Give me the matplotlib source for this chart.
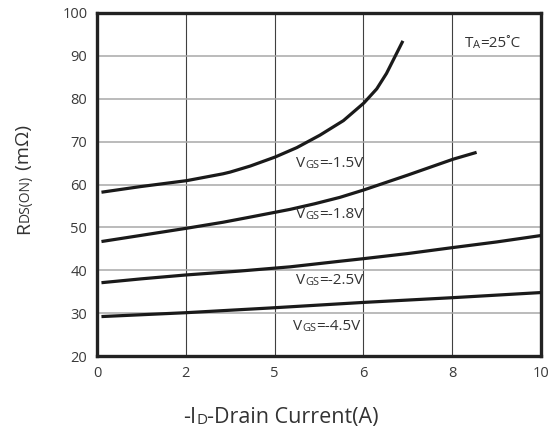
import matplotlib
matplotlib.use('Agg')
import matplotlib.pyplot as plt

plt.rcParams['font.family'] = ['Open Sans', 'DejaVu Sans']

# curves
x_15 = [0.1, 0.97, 2.02, 2.84, 3.0, 3.45, 4.01, 4.5, 5.02, 5.55, 6.01, 6.3, 6.52, 6.71, 6.89]
y_15 = [58.2, 59.5, 60.9, 62.5, 62.9, 64.3, 66.4, 68.6, 71.5, 74.9, 79.0, 82.3, 85.9, 89.8, 93.5]
x_18 = [0.1, 0.97, 2.02, 2.84, 3.45, 4.35, 4.9, 5.47, 6.0, 7.0, 8.02, 8.55]
y_18 = [46.7, 48.1, 49.8, 51.2, 52.4, 54.2, 55.5, 57.0, 58.7, 62.2, 65.9, 67.5]
x_25 = [0.1, 1.0, 2.0, 3.2, 4.35, 5.47, 6.0, 7.0, 8.02, 9.0, 10.0]
y_25 = [37.1, 38.0, 38.9, 39.8, 40.8, 42.1, 42.7, 43.9, 45.3, 46.6, 48.1]
x_45 = [0.1, 2.0, 3.9, 6.0, 8.0, 10.0]
y_45 = [29.2, 30.1, 31.2, 32.5, 33.6, 34.8]

xticks = [0, 2, 4, 6, 8, 10]
xtick_labels = ['0', '2', '5', '6', '8', '10']
yticks = [20, 30, 40, 50, 60, 70, 80, 90, 100]

txt = '#333333'


def mixed_text(ax, x, y, parts, rotation=0, coords=None):
    # pieces of text in different sizes, put one after the other
    s, size = parts[0]
    if rotation == 0:
        t = ax.text(x, y, s, fontsize=size, color=txt, va='baseline', ha='left',
                    transform=coords if coords else ax.transData)
        for s, size in parts[1:]:
            t = ax.annotate(s, xy=(1, 0), xycoords=t, fontsize=size, color=txt,
                            va='bottom', ha='left')
    else:
        t = ax.text(x, y, s, fontsize=size, color=txt, va='bottom', ha='right',
                    rotation=90, transform=coords)
        for s, size in parts[1:]:
            t = ax.annotate(s, xy=(1, 1), xycoords=t, fontsize=size, color=txt,
                            va='bottom', ha='right', rotation=90)
    return t


fig = plt.figure(figsize=(5.56, 4.33), dpi=100)
ax = fig.add_axes([0.1745, 0.1778, 0.7985, 0.7922])

for v in xticks[1:-1]:
    ax.axvline(v, color='#404040', lw=0.8, zorder=1)
for v in yticks[1:-1]:
    ax.axhline(v, color='#a8a8a8', lw=1.1, zorder=1)

for xs, ys in [(x_15, y_15), (x_18, y_18), (x_25, y_25), (x_45, y_45)]:
    ax.plot(xs, ys, color='#1a1a1a', lw=2.3, solid_capstyle='butt',
            solid_joinstyle='round', zorder=3)

ax.set_xlim(0, 10)
ax.set_ylim(20, 100)
ax.set_xticks(xticks)
ax.set_xticklabels(xtick_labels)
ax.set_yticks(yticks)
ax.tick_params(length=0, labelsize=10.5, labelcolor='#3a3a3a', pad=7)
for sp in ax.spines.values():
    sp.set_linewidth(2.4)
    sp.set_color('#222222')

mixed_text(ax, 4.48, 64.0, [('V', 11), ('GS', 8), ('=-1.5V', 11)])
mixed_text(ax, 4.48, 52.1, [('V', 11), ('GS', 8), ('=-1.8V', 11)])
mixed_text(ax, 4.48, 36.8, [('V', 11), ('GS', 8), ('=-2.5V', 11)])
mixed_text(ax, 4.41, 26.0, [('V', 11), ('GS', 8), ('=-4.5V', 11)])
mixed_text(ax, 8.29, 92.1, [('T', 11), ('A', 8), ('=25˚C', 11)])

mixed_text(ax, 183 / 556, 1 - 423 / 433,
           [('-I', 15.5), ('D', 11), ('-Drain Current(A)', 15.5)], coords=fig.transFigure)
mixed_text(ax, 33 / 556, 1 - 234 / 433,
           [('R', 14), ('DS(ON)', 10), (' (mΩ)', 14)], rotation=90, coords=fig.transFigure)

fig.savefig('out.png', dpi=100)
